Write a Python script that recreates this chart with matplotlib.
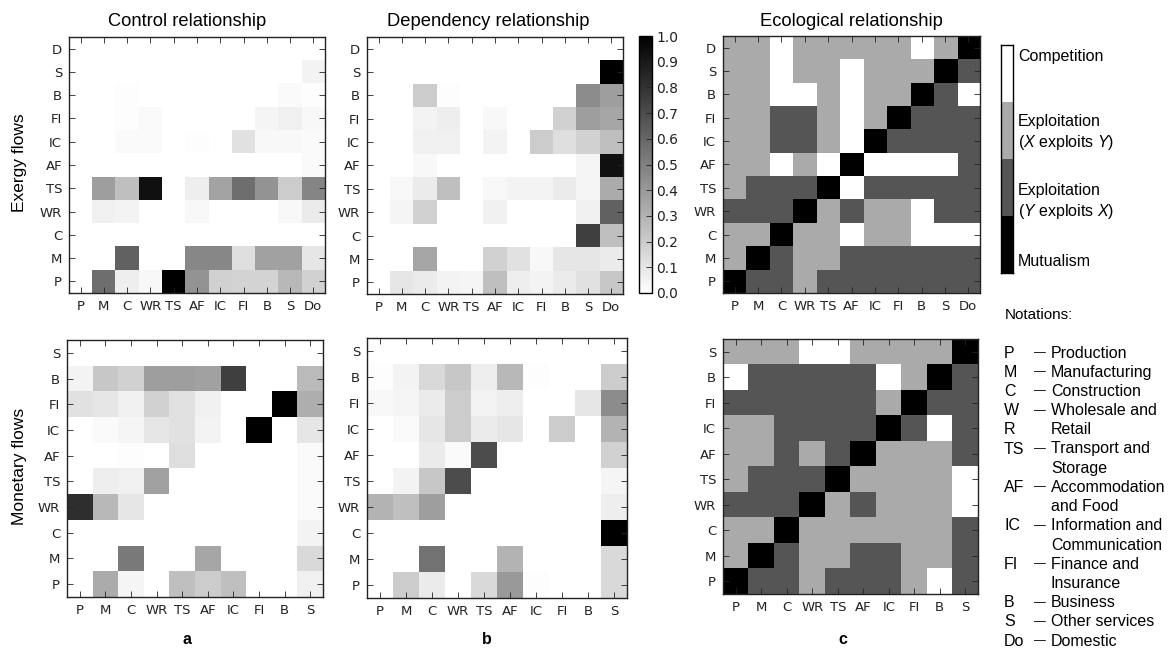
import matplotlib
matplotlib.use('Agg')
import matplotlib.pyplot as plt
from matplotlib.colors import ListedColormap, BoundaryNorm
import numpy as np

plt.rcParams['font.family'] = 'Liberation Sans'
plt.rcParams['mathtext.fontset'] = 'custom'
plt.rcParams['mathtext.rm'] = 'Liberation Sans'
plt.rcParams['mathtext.it'] = 'Liberation Sans:italic'

W, H = 1169, 653

# sector labels (rows listed top -> bottom as drawn)
top_cols = ['P', 'M', 'C', 'WR', 'TS', 'AF', 'IC', 'FI', 'B', 'S', 'Do']
top_rows = ['D', 'S', 'B', 'FI', 'IC', 'AF', 'TS', 'WR', 'C', 'M', 'P']
bot_cols = ['P', 'M', 'C', 'WR', 'TS', 'AF', 'IC', 'FI', 'B', 'S']
bot_rows = ['S', 'B', 'FI', 'IC', 'AF', 'TS', 'WR', 'C', 'M', 'P']

# exergy flows, control relationship
control_exergy = [
    [0, 0, 0, 0, 0, 0, 0, 0, 0, 0, 0],
    [0, 0, 0, 0, 0, 0, 0, 0, 0, 0, 0.05],
    [0, 0, 0.01, 0, 0, 0, 0, 0, 0, 0.02, 0.01],
    [0, 0, 0.01, 0.02, 0, 0, 0, 0, 0.04, 0.06, 0.03],
    [0, 0, 0.02, 0.02, 0, 0.01, 0, 0.12, 0.03, 0.03, 0.02],
    [0, 0, 0, 0, 0, 0, 0, 0, 0, 0, 0.02],
    [0, 0.38, 0.25, 0.93, 0, 0.07, 0.36, 0.57, 0.42, 0.2, 0.48],
    [0, 0.06, 0.05, 0, 0, 0.03, 0, 0, 0, 0.03, 0.08],
    [0, 0, 0, 0, 0, 0, 0, 0, 0, 0, 0],
    [0, 0, 0.62, 0, 0, 0.47, 0.47, 0.13, 0.37, 0.37, 0.1],
    [0, 0.57, 0.07, 0.03, 1.0, 0.42, 0.18, 0.17, 0.17, 0.28, 0.18],
]

# exergy flows, dependency relationship
dependency_exergy = [
    [0, 0, 0, 0, 0, 0, 0, 0, 0, 0, 0],
    [0, 0, 0, 0, 0, 0, 0, 0, 0, 0, 1.0],
    [0, 0, 0.2, 0.01, 0, 0, 0, 0, 0, 0.45, 0.38],
    [0, 0, 0.05, 0.07, 0, 0.03, 0, 0, 0.18, 0.38, 0.35],
    [0, 0, 0.06, 0.06, 0, 0.05, 0, 0.2, 0.13, 0.18, 0.25],
    [0, 0, 0.03, 0, 0, 0, 0, 0, 0, 0.04, 0.93],
    [0, 0.03, 0.08, 0.25, 0, 0.03, 0.05, 0.05, 0.08, 0.04, 0.33],
    [0, 0.04, 0.18, 0, 0, 0.06, 0, 0, 0, 0.06, 0.62],
    [0, 0, 0, 0, 0, 0, 0, 0, 0, 0.75, 0.25],
    [0, 0, 0.35, 0, 0, 0.18, 0.12, 0.03, 0.1, 0.1, 0.08],
    [0, 0.1, 0.08, 0.05, 0.04, 0.25, 0.07, 0.05, 0.08, 0.12, 0.22],
]

# 0 competition, 1 X exploits Y, 2 Y exploits X, 3 mutualism
ecological_exergy = [
    [1, 1, 0, 1, 1, 1, 1, 1, 0, 1, 3],
    [1, 1, 0, 1, 1, 0, 1, 1, 1, 3, 2],
    [1, 1, 0, 0, 1, 0, 1, 1, 3, 2, 0],
    [1, 1, 2, 2, 1, 0, 1, 3, 2, 2, 2],
    [1, 1, 2, 2, 1, 0, 3, 2, 2, 2, 2],
    [1, 1, 0, 1, 0, 3, 0, 0, 0, 0, 2],
    [1, 2, 2, 2, 3, 0, 2, 2, 2, 2, 2],
    [2, 2, 2, 3, 1, 2, 1, 1, 0, 2, 2],
    [1, 1, 3, 1, 1, 0, 1, 1, 0, 0, 0],
    [1, 3, 2, 1, 1, 2, 2, 2, 2, 2, 2],
    [3, 2, 2, 1, 2, 2, 2, 2, 2, 2, 2],
]

# monetary flows, control relationship
control_money = [
    [0, 0, 0, 0, 0, 0, 0, 0, 0, 0],
    [0.05, 0.22, 0.18, 0.38, 0.38, 0.37, 0.75, 0, 0, 0.27],
    [0.12, 0.1, 0.06, 0.18, 0.12, 0.06, 0, 0, 1.0, 0.32],
    [0, 0.02, 0.04, 0.1, 0.12, 0.05, 0, 1.0, 0, 0.1],
    [0, 0, 0.01, 0, 0.13, 0, 0, 0, 0, 0.02],
    [0, 0.07, 0.06, 0.37, 0, 0, 0, 0, 0, 0.02],
    [0.82, 0.28, 0.1, 0, 0, 0, 0, 0, 0, 0.02],
    [0, 0, 0, 0, 0, 0, 0, 0, 0, 0.05],
    [0, 0, 0.52, 0, 0, 0.35, 0, 0, 0, 0.15],
    [0, 0.33, 0.04, 0, 0.25, 0.2, 0.25, 0, 0, 0.06],
]

# monetary flows, dependency relationship
dependency_money = [
    [0, 0, 0, 0, 0, 0, 0, 0, 0, 0],
    [0.01, 0.05, 0.15, 0.22, 0.07, 0.28, 0.01, 0, 0, 0.2],
    [0.03, 0.04, 0.08, 0.2, 0.05, 0.07, 0, 0, 0.1, 0.45],
    [0, 0.02, 0.1, 0.2, 0.08, 0.1, 0, 0.2, 0, 0.3],
    [0, 0, 0.08, 0.02, 0.7, 0, 0, 0, 0, 0.18],
    [0, 0.05, 0.22, 0.7, 0, 0, 0, 0, 0, 0.04],
    [0.3, 0.25, 0.38, 0, 0, 0, 0, 0, 0, 0.07],
    [0, 0, 0, 0, 0, 0, 0, 0, 0, 1.0],
    [0, 0, 0.55, 0, 0, 0.3, 0, 0, 0, 0.15],
    [0, 0.2, 0.08, 0, 0.15, 0.4, 0.01, 0, 0, 0.15],
]

ecological_money = [
    [1, 1, 1, 0, 0, 1, 1, 1, 1, 3],
    [0, 2, 2, 2, 2, 2, 0, 1, 3, 2],
    [2, 2, 2, 2, 2, 2, 1, 3, 2, 2],
    [1, 1, 2, 2, 2, 2, 3, 2, 0, 2],
    [1, 1, 2, 1, 2, 3, 1, 1, 1, 2],
    [1, 2, 2, 2, 3, 1, 1, 1, 1, 0],
    [2, 2, 2, 3, 1, 2, 1, 1, 1, 0],
    [1, 1, 3, 1, 1, 1, 1, 1, 1, 2],
    [1, 3, 2, 1, 1, 2, 2, 1, 1, 2],
    [3, 2, 2, 1, 2, 2, 2, 1, 0, 2],
]

eco_labels = ['Competition', 'Exploitation\n($X$ exploits $Y$)',
              'Exploitation\n($Y$ exploits $X$)', 'Mutualism']
eco_colors = ['#ffffff', '#aaaaaa', '#555555', '#000000']

# (abbreviation, has dash, text)
notations = [('P', True, 'Production'), ('M', True, 'Manufacturing'),
             ('C', True, 'Construction'), ('W', True, 'Wholesale and'),
             ('R', False, 'Retail'), ('TS', True, 'Transport and'),
             ('', False, 'Storage'), ('AF', True, 'Accommodation'),
             ('', False, 'and Food'), ('IC', True, 'Information and'),
             ('', False, 'Communication'), ('FI', True, 'Finance and'),
             ('', False, 'Insurance'), ('B', True, 'Business'),
             ('S', True, 'Other services'), ('Do', True, 'Domestic')]


def box(l, t, r, b):
    return [l / W, 1 - b / H, (r - l) / W, (b - t) / H]


def fx(x):
    return x / W


def fy(y):
    return 1 - y / H


fig = plt.figure(figsize=(W / 100, H / 100), dpi=100)

eco_cmap = ListedColormap(eco_colors)
eco_norm = BoundaryNorm([-0.5, 0.5, 1.5, 2.5, 3.5], 4)


def heat(rect, data, cols, rows, eco=False):
    ax = fig.add_axes(box(*rect))
    if eco:
        im = ax.imshow(np.array(data), cmap=eco_cmap, norm=eco_norm,
                       aspect='auto', interpolation='nearest')
    else:
        im = ax.imshow(np.array(data), cmap='gray_r', vmin=0, vmax=1,
                       aspect='auto', interpolation='nearest')
    ax.set_xticks(range(len(cols)))
    ax.set_xticklabels(cols, family='DejaVu Sans', fontsize=9.5)
    ax.set_yticks(range(len(rows)))
    ax.set_yticklabels(rows, family='DejaVu Sans', fontsize=9.5)
    ax.tick_params(direction='in', top=True, right=True, length=4,
                   width=0.6, pad=5, colors='#222222')
    for s in ax.spines.values():
        s.set_linewidth(1.0)
        s.set_color('#222222')
    return ax, im


heat((69, 37, 325, 293), control_exergy, top_cols, top_rows)
ax_b, im_b = heat((367, 37, 623, 294), dependency_exergy, top_cols, top_rows)
heat((723, 36, 980, 293), ecological_exergy, top_cols, top_rows, eco=True)
heat((67, 340, 323, 597), control_money, bot_cols, bot_rows)
heat((367, 338, 627, 598), dependency_money, bot_cols, bot_rows)
heat((723, 339, 978, 594), ecological_money, bot_cols, bot_rows, eco=True)

# shared colour bar
cax = fig.add_axes(box(639, 36, 652, 293))
cb = fig.colorbar(im_b, cax=cax, ticks=np.linspace(0, 1, 11))
cb.ax.set_yticklabels(['%.1f' % v for v in np.linspace(0, 1, 11)],
                      family='DejaVu Sans', fontsize=10)
cb.ax.tick_params(direction='in', length=4, width=0.6, pad=3, colors='#222222')
cb.outline.set_linewidth(1.0)

# ecological legend bar (competition on top)
lax = fig.add_axes(box(1001, 45, 1013, 273))
lax.imshow(np.arange(4).reshape(-1, 1), cmap=eco_cmap, norm=eco_norm,
           aspect='auto', interpolation='nearest')
lax.set_xticks([])
lax.set_yticks([])
for s in lax.spines.values():
    s.set_linewidth(1.0)
for lab, y in zip(eco_labels, [56, 133, 202, 262]):
    fig.text(fx(1018), fy(y), lab, fontsize=11.5, va='center', ha='left',
             linespacing=1.3)

# titles
for t, x in zip(['Control relationship', 'Dependency relationship',
                 'Ecological relationship'], [187, 488, 851]):
    fig.text(fx(x), fy(21), t, fontsize=13.2, ha='center', va='center')

fig.text(fx(20), fy(163), 'Exergy flows', fontsize=12.5, rotation=90,
         ha='center', va='center')
fig.text(fx(20), fy(466), 'Monetary flows', fontsize=12.5, rotation=90,
         ha='center', va='center')

for t, x in zip(['a', 'b', 'c'], [187, 487, 843]):
    fig.text(fx(x), fy(640), t, fontsize=11.5, fontweight='bold',
             ha='center', va='center')

# notations
fig.text(fx(1005), fy(315), 'Notations:', fontsize=11, ha='left', va='center')
for i, (abbr, dash, desc) in enumerate(notations):
    y = 353 + i * 19.2
    fig.text(fx(1004), fy(y), abbr, fontsize=11.5, ha='left', va='center')
    if dash:
        fig.text(fx(1034), fy(y), '\u2014', fontsize=8.5, ha='left',
                 va='center')
    fig.text(fx(1051), fy(y), desc, fontsize=11.5, ha='left', va='center')

fig.savefig('out.png', dpi=100)
